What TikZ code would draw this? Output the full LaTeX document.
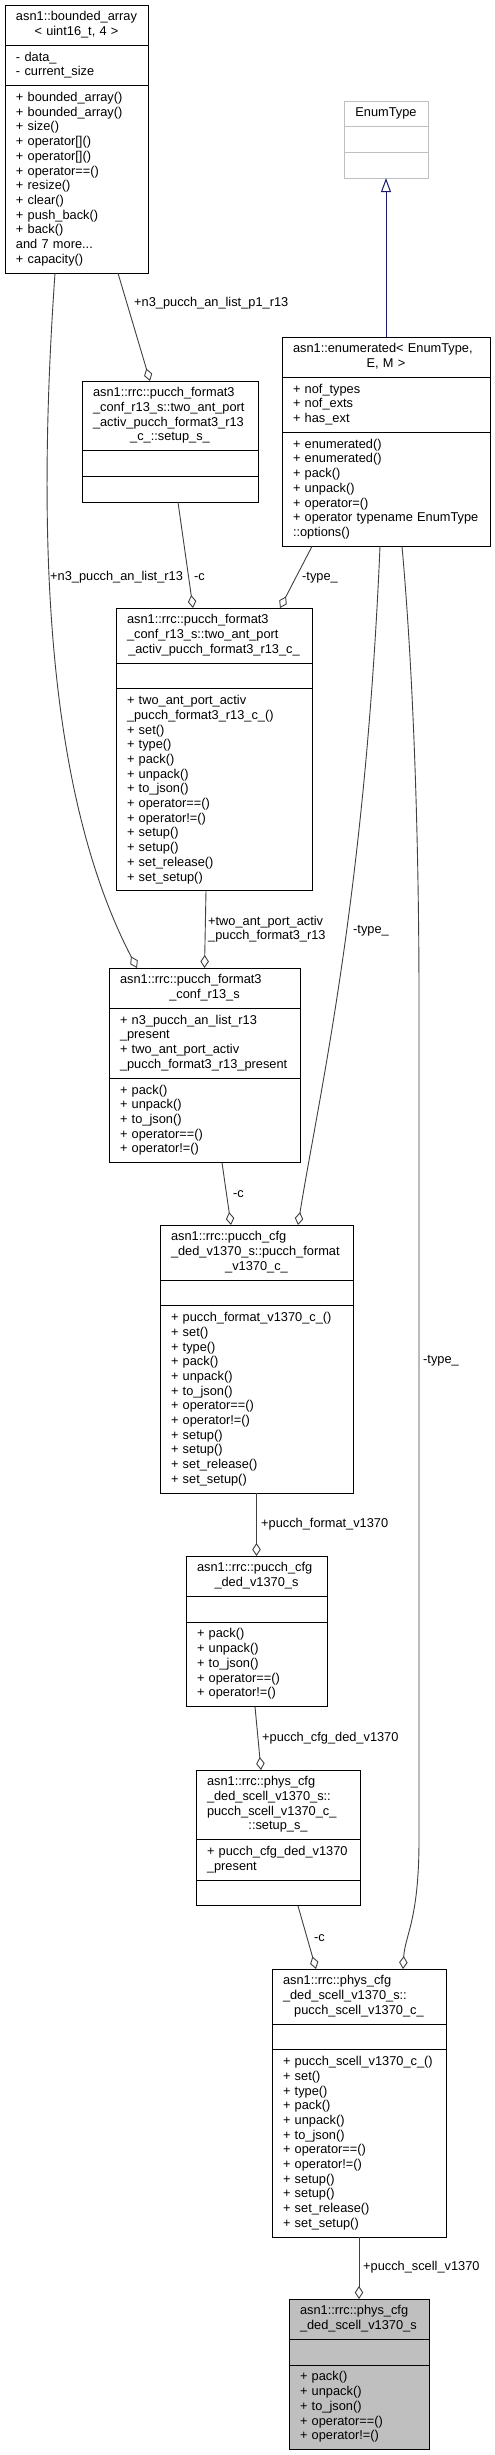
\documentclass[tikz,border=0pt]{standalone}
\usepackage{fontspec}
\setmainfont{Liberation Sans}
\usetikzlibrary{positioning,arrows.meta}
\definecolor{edgegray}{HTML}{404040}
\definecolor{genblue}{HTML}{191970}
\definecolor{mainfill}{HTML}{BFBFBF}
\definecolor{tplgray}{HTML}{BFBFBF}
\setlength{\parindent}{0pt}
\tikzset{
  cls/.style={draw=black, line width=1pt, fill=white, text width=#1, inner xsep=11pt, inner ysep=5.5pt, outer sep=0pt, align=left,
    font={\fontsize{12.8}{14.7}\selectfont\hyphenpenalty=10000\relax\exhyphenpenalty=10000\relax},
    execute at begin node=\strut, execute at end node=\strut},
  clsmain/.style={cls=#1, fill=mainfill},
  clstpl/.style={cls=#1, draw=tplgray},
  aggr/.style={draw=edgegray, line width=0.9pt, -{Diamond[open,length=13pt,width=8.5pt]}},
  gen/.style={draw=genblue, line width=1pt, -{Triangle[open,length=14pt,width=10pt]}},
  lbl/.style={anchor=base west, inner sep=0pt, font=\fontsize{12.8}{14.7}\selectfont}
}
\begin{document}
\begin{tikzpicture}[x=1pt,y=-1pt]
\path[fill=white,use as bounding box] (0,0) rectangle (495,2455);
\node[cls=121pt, anchor=north west] (ba) at (5,5) {asn1::bounded\_array\\\makebox[\linewidth]{< uint16\_t, 4 >}};
\node[cls=121pt, below=0pt of ba] (ba-a) {- data\_\\- current\_size};
\node[cls=121pt, below=0pt of ba-a] (ba-m) {+ bounded\_array()\\+ bounded\_array()\\+ size()\\+ operator[]()\\+ operator[]()\\+ operator==()\\+ resize()\\+ clear()\\+ push\_back()\\+ back()\\and 7 more...\\+ capacity()};
\node[clstpl=62pt, anchor=north west] (et) at (344,101) {\makebox[\linewidth]{EnumType}};
\node[clstpl=62pt, below=0pt of et] (et-a) {};
\node[clstpl=62pt, below=0pt of et-a] (et-m) {};
\node[cls=186pt, anchor=north west] (en) at (282,337) {asn1::enumerated<~EnumType,\\\makebox[\linewidth]{E, M >}};
\node[cls=186pt, below=0pt of en] (en-a) {+ nof\_types\\+ nof\_exts\\+ has\_ext};
\node[cls=186pt, below=0pt of en-a] (en-m) {+ enumerated()\\+ enumerated()\\+ pack()\\+ unpack()\\+ operator=()\\+~operator~typename~EnumType\\::options()};
\node[cls=154pt, anchor=north west] (ss) at (82,381) {asn1::rrc::pucch\_format3\\\_conf\_r13\_s::two\_ant\_port\\\_activ\_pucch\_format3\_r13\\\makebox[\linewidth]{\_c\_::setup\_s\_}};
\node[cls=154pt, below=0pt of ss] (ss-a) {};
\node[cls=154pt, below=0pt of ss-a] (ss-m) {};
\node[cls=174pt, anchor=north west] (tc) at (116,608) {asn1::rrc::pucch\_format3\\\_conf\_r13\_s::two\_ant\_port\\\makebox[\linewidth]{\_activ\_pucch\_format3\_r13\_c\_}};
\node[cls=174pt, below=0pt of tc] (tc-a) {};
\node[cls=174pt, below=0pt of tc-a] (tc-m) {+ two\_ant\_port\_activ\\\_pucch\_format3\_r13\_c\_()\\+ set()\\+ type()\\+ pack()\\+ unpack()\\+ to\_json()\\+ operator==()\\+ operator!=()\\+ setup()\\+ setup()\\+ set\_release()\\+ set\_setup()};
\node[cls=169pt, anchor=north west] (cs) at (109,968) {asn1::rrc::pucch\_format3\\\makebox[\linewidth]{\_conf\_r13\_s}};
\node[cls=169pt, below=0pt of cs] (cs-a) {+ n3\_pucch\_an\_list\_r13\\\_present\\+ two\_ant\_port\_activ\\\_pucch\_format3\_r13\_present};
\node[cls=169pt, below=0pt of cs-a] (cs-m) {+ pack()\\+ unpack()\\+ to\_json()\\+ operator==()\\+ operator!=()};
\node[cls=171pt, anchor=north west] (pf) at (160,1225) {asn1::rrc::pucch\_cfg\\\_ded\_v1370\_s::pucch\_format\\\makebox[\linewidth]{\_v1370\_c\_}};
\node[cls=171pt, below=0pt of pf] (pf-a) {};
\node[cls=171pt, below=0pt of pf-a] (pf-m) {+ pucch\_format\_v1370\_c\_()\\+ set()\\+ type()\\+ pack()\\+ unpack()\\+ to\_json()\\+ operator==()\\+ operator!=()\\+ setup()\\+ setup()\\+ set\_release()\\+ set\_setup()};
\node[cls=119pt, anchor=north west] (pd) at (186,1556) {asn1::rrc::pucch\_cfg\\\makebox[\linewidth]{\_ded\_v1370\_s}};
\node[cls=119pt, below=0pt of pd] (pd-a) {};
\node[cls=119pt, below=0pt of pd-a] (pd-m) {+ pack()\\+ unpack()\\+ to\_json()\\+ operator==()\\+ operator!=()};
\node[cls=142pt, anchor=north west] (ps) at (196,1770) {asn1::rrc::phys\_cfg\\\_ded\_scell\_v1370\_s::\\pucch\_scell\_v1370\_c\_\\\makebox[\linewidth]{::setup\_s\_}};
\node[cls=142pt, below=0pt of ps] (ps-a) {+~pucch\_cfg\_ded\_v1370\\\_present};
\node[cls=142pt, below=0pt of ps-a] (ps-m) {};
\node[cls=152pt, anchor=north west] (pc) at (272,1969) {asn1::rrc::phys\_cfg\\\_ded\_scell\_v1370\_s::\\\makebox[\linewidth]{pucch\_scell\_v1370\_c\_}};
\node[cls=152pt, below=0pt of pc] (pc-a) {};
\node[cls=152pt, below=0pt of pc-a] (pc-m) {+~pucch\_scell\_v1370\_c\_()\\+ set()\\+ type()\\+ pack()\\+ unpack()\\+ to\_json()\\+ operator==()\\+ operator!=()\\+ setup()\\+ setup()\\+ set\_release()\\+ set\_setup()};
\node[clsmain=118pt, anchor=north west] (pm) at (289,2299) {asn1::rrc::phys\_cfg\\\_ded\_scell\_v1370\_s};
\node[clsmain=118pt, below=0pt of pm] (pm-a) {};
\node[clsmain=118pt, below=0pt of pm-a] (pm-m) {+ pack()\\+ unpack()\\+ to\_json()\\+ operator==()\\+ operator!=()};
\draw[gen] (en.north) -- (et-m.south);
\draw[aggr] ([xshift=41.5pt]ba-m.south) -- ([xshift=-20pt]ss.north);
\draw[aggr] ([xshift=-21.5pt]ba-m.south) .. controls (35,560) and (50,800) .. ([xshift=-67.5pt]cs.north);
\draw[aggr] ([xshift=8pt]ss-m.south) -- ([xshift=-21pt]tc.north);
\draw[aggr] ([xshift=-74pt]en-m.south) -- ([xshift=66pt]tc.north);
\draw[aggr] ([xshift=-8pt]tc-m.south) -- (cs.north);
\draw[aggr] ([xshift=-6pt]en-m.south) .. controls (365,900) and (318,1100) .. ([xshift=41.5pt]pf.north);
\draw[aggr] ([xshift=17.5pt]cs-m.south) -- ([xshift=-25.5pt]pf.north);
\draw[aggr] (pf-m.south) -- (pd.north);
\draw[aggr] ([xshift=-1.5pt]pd-m.south) -- ([xshift=-17pt]ps.north);
\draw[aggr] ([xshift=16pt]en-m.south) .. controls (414,680) and (419,850) .. (419,1000) -- (419,1840) .. controls (419,1920) and (405,1935) .. ([xshift=44pt]pc.north);
\draw[aggr] ([xshift=20pt]ps-m.south) -- ([xshift=-43pt]pc.north);
\draw[aggr] (pc-m.south) -- (pm.north);
\node[lbl] (l-p1) at (134,306) {+n3\_pucch\_an\_list\_p1\_r13};
\node[lbl] (l-r13) at (50,580) {+n3\_pucch\_an\_list\_r13};
\node[lbl] (l-c1) at (194,580) {-c};
\node[lbl] (l-t1) at (302,580) {-type\_};
\node[lbl, text width=125pt, align=left] (l-two) at (208,925) {+two\_ant\_port\_activ\\\_pucch\_format3\_r13};
\node[lbl] (l-t2) at (353,933) {-type\_};
\node[lbl] (l-c2) at (233,1197) {-c};
\node[lbl] (l-pf) at (261,1527) {+pucch\_format\_v1370};
\node[lbl] (l-t3) at (423,1363) {-type\_};
\node[lbl] (l-pd) at (262,1741) {+pucch\_cfg\_ded\_v1370};
\node[lbl] (l-c3) at (314,1941) {-c};
\node[lbl] (l-ps) at (363,2270) {+pucch\_scell\_v1370};
\end{tikzpicture}
\end{document}
